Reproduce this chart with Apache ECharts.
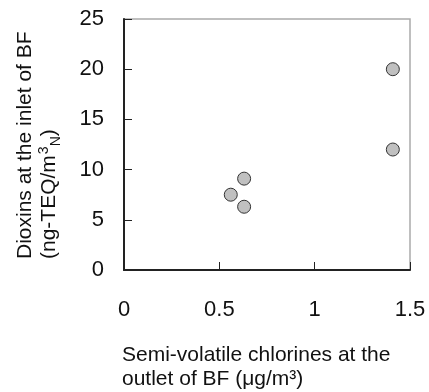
<!DOCTYPE html>
<html>
<head>
<meta charset="utf-8">
<script src="https://cdn.jsdelivr.net/npm/echarts@6/dist/echarts.min.js"></script>
<style>
html,body{margin:0;padding:0;background:#fff;}
#chart{width:429px;height:392px;}
</style>
</head>
<body>
<div id="chart"></div>
<script>
// Data
const semiVolatileChlorines = [1.41, 1.41, 0.63, 0.56, 0.63];   // x, µg/m3
const dioxinsInlet = [20.0, 12.0, 9.1, 7.5, 6.3];                // y, ng-TEQ/m3N
const xTickLabels = ['0', '0.5', '1', '1.5'];
const yTickLabels = ['0', '5', '10', '15', '20', '25'];
const xTitleLines = ['Semi-volatile chlorines at the', 'outlet of BF (\u03bcg/m\u00b3)'];
const yTitleLine1 = 'Dioxins at the inlet of BF';

const FONT = "'Liberation Sans', Arial, sans-serif";
const points = semiVolatileChlorines.map((x, i) => [x, dioxinsInlet[i]]);

const chart = echarts.init(document.getElementById('chart'), null, {renderer: 'canvas'});
chart.setOption({
  animation: false,
  backgroundColor: '#fff',
  grid: {
    left: 124, top: 19, right: 19, bottom: 122,
    show: true, borderColor: '#aaaaaa', borderWidth: 1.5, backgroundColor: 'transparent'
  },
  xAxis: {
    type: 'value', min: 0, max: 1.5, interval: 0.5,
    axisLine: {show: true, onZero: false, lineStyle: {color: '#222', width: 2}},
    axisTick: {show: true, inside: true, length: 8, lineStyle: {color: '#222', width: 1}},
    splitLine: {show: false},
    axisLabel: {
      margin: 29, color: '#111', fontSize: 22, fontFamily: FONT,
      formatter: (v) => xTickLabels[Math.round(v / 0.5)] ?? ''
    }
  },
  yAxis: {
    type: 'value', min: 0, max: 25, interval: 5,
    axisLine: {show: true, onZero: false, lineStyle: {color: '#222', width: 2}},
    axisTick: {show: true, inside: true, length: 8, lineStyle: {color: '#222', width: 1}},
    splitLine: {show: false},
    axisLabel: {
      margin: 20, color: '#111', fontSize: 22, fontFamily: FONT,
      formatter: (v) => yTickLabels[Math.round(v / 5)] ?? ''
    }
  },
  series: [{
    type: 'scatter',
    data: points,
    symbol: 'circle',
    symbolSize: 13,
    itemStyle: {color: '#c0c0c0', borderColor: '#333', borderWidth: 1, opacity: 1}
  }],
  graphic: [
    {
      type: 'text', x: 25, y: 259, rotation: Math.PI / 2,
      style: {text: yTitleLine1, fontSize: 21, fontFamily: FONT, fill: '#111', align: 'left', verticalAlign: 'middle'}
    },
    {
      type: 'text', x: 49, y: 259, rotation: Math.PI / 2,
      style: {
        text: '{a|(ng-TEQ/m}{sup|3}{sub|N}{a|)}',
        align: 'left', verticalAlign: 'middle',
        rich: {
          a: {fontSize: 21, fontFamily: FONT, fill: '#111', lineHeight: 28, verticalAlign: 'middle'},
          sup: {fontSize: 14, fontFamily: FONT, fill: '#111', lineHeight: 28, verticalAlign: 'top', padding: [2, 0, 0, 1]},
          sub: {fontSize: 14, fontFamily: FONT, fill: '#111', lineHeight: 28, verticalAlign: 'bottom', padding: [0, 0, 0, 0]}
        }
      }
    },
    {
      type: 'text', x: 122, y: 343.5,
      style: {text: xTitleLines.join('\n'), fontSize: 21, lineHeight: 24, fontFamily: FONT, fill: '#111', align: 'left', verticalAlign: 'top'}
    }
  ]
});
</script>
</body>
</html>
